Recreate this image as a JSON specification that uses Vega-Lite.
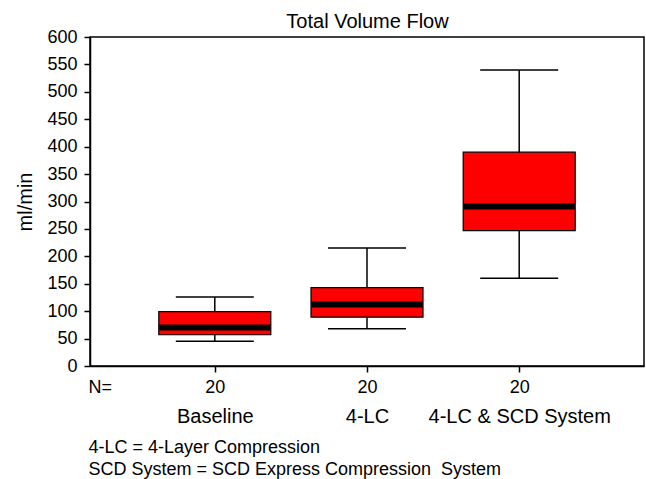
{
  "$schema": "https://vega.github.io/schema/vega-lite/v6.json",
  "width": 554,
  "height": 329,
  "autosize": {"type": "none"},
  "padding": {"left": 90, "top": 37, "right": 2, "bottom": 113},
  "background": "white",
  "config": {
    "font": "Liberation Sans",
    "view": {"stroke": "black", "strokeWidth": 1.5},
    "axis": {
      "domainColor": "black",
      "domainWidth": 1.5,
      "tickColor": "black",
      "tickWidth": 1.5,
      "labelColor": "black",
      "titleColor": "black",
      "grid": false,
      "labelFont": "Liberation Sans",
      "titleFont": "Liberation Sans",
      "titleFontWeight": "normal",
      "labelLimit": 400,
      "titleLimit": 600
    },
    "axisY": {
      "labelFontSize": 18,
      "tickSize": 6,
      "labelPadding": 7,
      "titleFontSize": 20,
      "titlePadding": 11,
      "labelOverlap": false
    }
  },
  "data": {
    "values": [
      {"group": "Baseline", "n": 20, "lo": 45, "q1": 57, "med": 70, "q3": 99, "hi": 126},
      {"group": "4-LC", "n": 20, "lo": 68, "q1": 89, "med": 112, "q3": 143, "hi": 215},
      {"group": "4-LC & SCD System", "n": 20, "lo": 160, "q1": 247, "med": 291, "q3": 390, "hi": 540}
    ]
  },
  "layer": [
    {
      "mark": {"type": "rule", "color": "black", "strokeWidth": 1.5},
      "encoding": {
        "x": {
          "field": "group",
          "type": "nominal",
          "sort": ["Baseline", "4-LC", "4-LC & SCD System"],
          "scale": {"type": "point", "padding": 0.82},
          "axis": {
            "orient": "bottom",
            "labelExpr": "'20'",
            "labelAngle": 0,
            "labelFontSize": 18,
            "tickSize": 6,
            "labelPadding": 6,
            "title": "N=",
            "titleFontSize": 18,
            "titleX": -2,
            "titleY": 12,
            "titleAlign": "left",
            "titleBaseline": "top",
            "titleAnchor": null
          }
        },
        "y": {
          "field": "lo",
          "type": "quantitative",
          "scale": {"domain": [0, 600], "nice": false, "zero": true},
          "axis": {
            "values": [0, 50, 100, 150, 200, 250, 300, 350, 400, 450, 500, 550, 600],
            "title": "ml/min"
          }
        },
        "y2": {"field": "hi"}
      }
    },
    {
      "mark": {"type": "bar", "size": 112, "color": "#ff0000", "stroke": "black", "strokeWidth": 1.2, "opacity": 1},
      "encoding": {
        "x": {
          "field": "group",
          "type": "nominal",
          "sort": ["Baseline", "4-LC", "4-LC & SCD System"],
          "scale": {"type": "point", "padding": 0.82},
          "axis": {
            "orient": "bottom",
            "labelAngle": 0,
            "labelFontSize": 20,
            "labelLimit": 400,
            "ticks": false,
            "tickSize": 0,
            "domain": false,
            "labelPadding": 40,
            "title": ["4-LC = 4-Layer Compression", "SCD System = SCD Express Compression\u00a0 System"],
            "titleFontSize": 18,
            "titleLineHeight": 22,
            "titleX": -2,
            "titleY": 72,
            "titleAlign": "left",
            "titleBaseline": "top",
            "titleAnchor": null
          }
        },
        "y": {
          "field": "q1",
          "type": "quantitative",
          "scale": {"domain": [0, 600], "nice": false, "zero": true},
          "axis": {
            "values": [0, 50, 100, 150, 200, 250, 300, 350, 400, 450, 500, 550, 600],
            "title": "ml/min"
          }
        },
        "y2": {"field": "q3"}
      }
    },
    {
      "mark": {"type": "tick", "color": "black", "size": 78, "thickness": 1.5, "opacity": 1},
      "encoding": {
        "x": {
          "field": "group",
          "type": "nominal",
          "sort": ["Baseline", "4-LC", "4-LC & SCD System"],
          "scale": {"type": "point", "padding": 0.82},
          "axis": {
            "orient": "top",
            "labels": false,
            "ticks": false,
            "domain": false,
            "title": "Total Volume Flow",
            "titleFontSize": 20,
            "titleBaseline": "alphabetic",
            "titleY": -10,
            "titleAnchor": "middle"
          }
        },
        "y": {
          "field": "lo",
          "type": "quantitative",
          "scale": {"domain": [0, 600], "nice": false, "zero": true},
          "axis": {
            "values": [0, 50, 100, 150, 200, 250, 300, 350, 400, 450, 500, 550, 600],
            "title": "ml/min"
          }
        }
      }
    },
    {
      "mark": {"type": "tick", "color": "black", "size": 78, "thickness": 1.5, "opacity": 1},
      "encoding": {
        "x": {"field": "group", "type": "nominal", "sort": ["Baseline", "4-LC", "4-LC & SCD System"], "scale": {"type": "point", "padding": 0.82}, "axis": null},
        "y": {
          "field": "hi",
          "type": "quantitative",
          "scale": {"domain": [0, 600], "nice": false, "zero": true},
          "axis": {
            "values": [0, 50, 100, 150, 200, 250, 300, 350, 400, 450, 500, 550, 600],
            "title": "ml/min"
          }
        }
      }
    },
    {
      "mark": {"type": "tick", "color": "black", "size": 111, "thickness": 6, "opacity": 1},
      "encoding": {
        "x": {"field": "group", "type": "nominal", "sort": ["Baseline", "4-LC", "4-LC & SCD System"], "scale": {"type": "point", "padding": 0.82}, "axis": null},
        "y": {
          "field": "med",
          "type": "quantitative",
          "scale": {"domain": [0, 600], "nice": false, "zero": true},
          "axis": {
            "values": [0, 50, 100, 150, 200, 250, 300, 350, 400, 450, 500, 550, 600],
            "title": "ml/min"
          }
        }
      }
    }
  ],
  "resolve": {"axis": {"x": "independent"}}
}
